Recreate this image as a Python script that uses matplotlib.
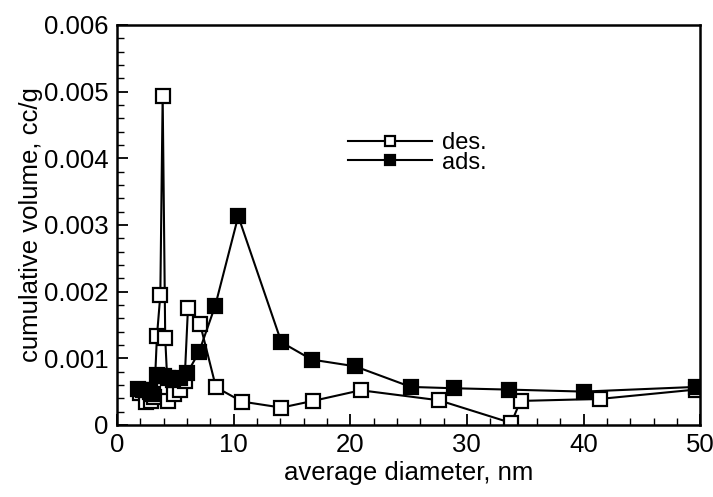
import numpy as np
import matplotlib
matplotlib.use("Agg")
import matplotlib.pyplot as plt
from matplotlib.ticker import MultipleLocator

plt.rcParams['font.family'] = ['Liberation Sans', 'DejaVu Sans']

# desorption branch
des_x = [2.0, 2.5, 2.9, 3.2, 3.43, 3.72, 3.92, 4.14, 4.4, 4.9, 5.4, 5.8, 6.09,
         7.12, 8.49, 10.72, 14.1, 16.8, 20.9, 27.6, 33.8, 34.6, 41.4, 49.6]
des_y = [0.00048, 0.00034, 0.00036, 0.00042, 0.00133, 0.00195, 0.00494, 0.00130,
         0.00036, 0.00046, 0.00052, 0.00066, 0.00175, 0.00152, 0.000565, 0.00035,
         0.00026, 0.00036, 0.00052, 0.00037, 0.00003, 0.00036, 0.00039, 0.00053]

# adsorption branch
ads_x = [1.83, 2.2, 2.5, 2.8, 3.1, 3.4, 3.7, 4.0, 4.4, 4.8, 5.4, 6.03, 7.03,
         8.43, 10.4, 14.1, 16.7, 20.4, 25.2, 28.9, 33.6, 40.0, 49.6]
ads_y = [0.00054, 0.00053, 0.00052, 0.00050, 0.00047, 0.00075, 0.00074, 0.00073,
         0.00070, 0.00068, 0.00070, 0.00078, 0.00109, 0.00179, 0.00313, 0.00124,
         0.00098, 0.00088, 0.00057, 0.00055, 0.00053, 0.00050, 0.00057]

ytick_labels = ['0', '0.001', '0.002', '0.003', '0.004', '0.005', '0.006']

fig = plt.figure(figsize=(7.13, 4.97), dpi=100)
ax = fig.add_axes([0.164, 0.145, 0.818, 0.805])

ax.plot(des_x, des_y, color='black', lw=1.5, marker='s', ms=9.5,
        mfc='white', mec='black', mew=1.6, label='des.')
ax.plot(ads_x, ads_y, color='black', lw=1.5, marker='s', ms=9.5,
        mfc='black', mec='black', mew=1.6, label='ads.')

ax.set_xlim(0, 50)
ax.set_ylim(0, 0.006)
ax.xaxis.set_major_locator(MultipleLocator(10))
ax.xaxis.set_minor_locator(MultipleLocator(2))
ax.set_yticks(np.arange(0, 0.0061, 0.001))
ax.set_yticklabels(ytick_labels)
ax.yaxis.set_minor_locator(MultipleLocator(0.0002))
ax.tick_params(which='both', direction='in', top=False, right=False, labelsize=18.5)
ax.tick_params(which='major', length=8, width=1.3, pad=6)
ax.tick_params(which='minor', length=5, width=1)
for s in ax.spines.values():
    s.set_linewidth(1.8)

ax.set_xlabel('average diameter, nm', fontsize=18.5, labelpad=3)
ax.set_ylabel('cumulative volume, cc/g', fontsize=18.5, labelpad=1)

leg = ax.legend(loc='upper left', bbox_to_anchor=(0.376, 0.762), frameon=False,
                fontsize=17, handlelength=3.56, handletextpad=0.42,
                labelspacing=-0.1, borderpad=0, markerscale=0.77)

fig.savefig('out.png', dpi=100)
